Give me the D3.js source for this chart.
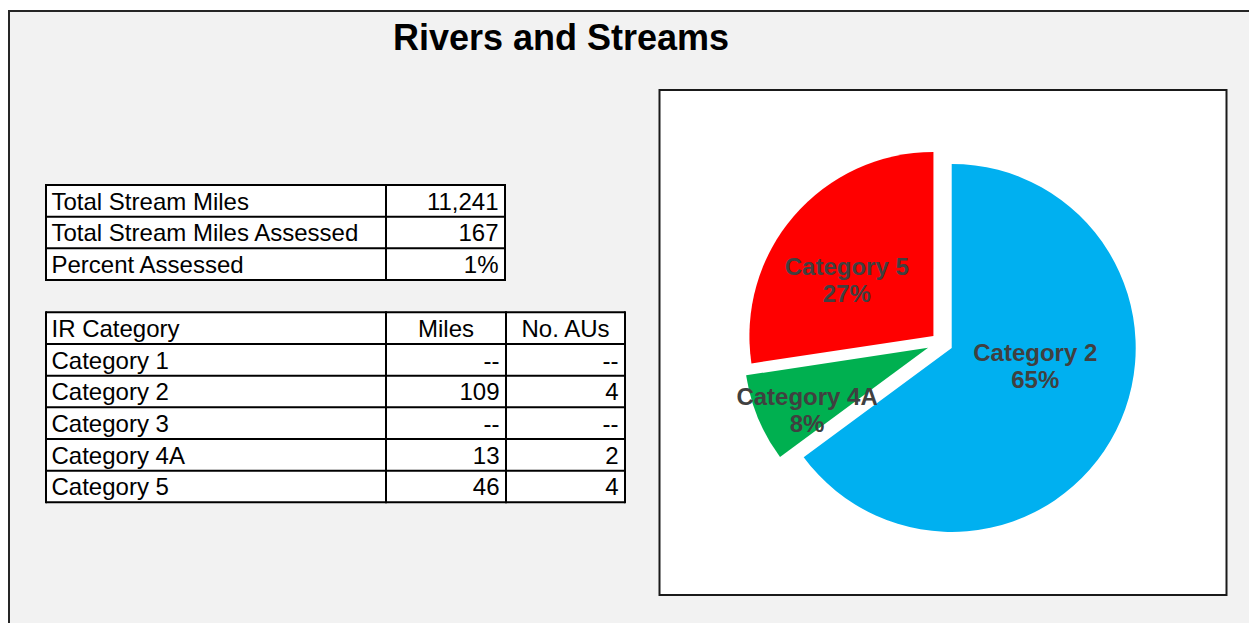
<!DOCTYPE html>
<html>
<head>
<meta charset="utf-8">
<script src="https://cdn.jsdelivr.net/npm/d3@7"></script>
<style>
  body { margin: 0; background: #ffffff; }
  svg { display: block; font-family: "Liberation Sans", Arial, sans-serif; }
</style>
</head>
<body>
<div id="chart"></div>
<script>
// summary table
var summary_labels = ["Total Stream Miles", "Total Stream Miles Assessed", "Percent Assessed"];
var total_miles = 11241;
var assessed_miles = 167;

// category table
var categories = ["Category 1", "Category 2", "Category 3", "Category 4A", "Category 5"];
var miles = [null, 109, null, 13, 46];
var aus = [null, 4, null, 2, 4];
var table_header = ["IR Category", "Miles", "No. AUs"];

var width = 1249,
    height = 623;

var colors = {"Category 2": "#00b0f0", "Category 4A": "#00b050", "Category 5": "#ff0000"};
var explode = {"Category 2": 12, "Category 4A": 14, "Category 5": 10};
// best-fit label nudges, like the excel data labels
var nudge = {"Category 2": [-15, -33], "Category 4A": [-19, 19], "Category 5": [-3, 15]};

var fmt_int = d3.format(","),
    fmt_pct = d3.format(".0%");

var svg = d3.select("#chart")
    .append("svg")
    .attr("width", width)
    .attr("height", height);

svg.append("rect")
    .attr("width", width)
    .attr("height", height)
    .attr("fill", "#ffffff");

// outer frame (right and bottom edges run off the page)
svg.append("rect")
    .attr("x", 9)
    .attr("y", 11)
    .attr("width", width + 20)
    .attr("height", height + 20)
    .attr("fill", "#f2f2f2")
    .attr("stroke", "#262626")
    .attr("stroke-width", 2);

svg.append("text")
    .attr("x", 561)
    .attr("y", 50)
    .attr("text-anchor", "middle")
    .attr("font-size", 36)
    .attr("font-weight", "bold")
    .attr("fill", "#000")
    .text("Rivers and Streams");

function draw_table(g, rows, cols, top, bottom){
    // rows: array of arrays of {text, align}
    var y = d3.scaleBand()
        .domain(d3.range(rows.length))
        .range([top, bottom]);
    var edges = cols;

    g.append("rect")
        .attr("x", edges[0])
        .attr("y", top)
        .attr("width", edges[edges.length - 1] - edges[0])
        .attr("height", bottom - top)
        .attr("fill", "#ffffff");

    var row_g = g.selectAll(".row")
        .data(rows)
        .enter()
        .append("g")
        .attr("class", "row")
        .attr("transform", (d, i) => `translate(0,${y(i)})`);

    row_g.selectAll("text")
        .data(d => d)
        .enter()
        .append("text")
        .attr("x", function(d, j){
            if (d.align == "start") return edges[j] + 5.5;
            if (d.align == "middle") return (edges[j] + edges[j + 1]) / 2;
            return edges[j + 1] - 6.5;
        })
        .attr("y", y.bandwidth() - 7)
        .attr("text-anchor", d => d.align)
        .attr("font-size", 24)
        .attr("fill", "#000")
        .text(d => d.text);

    // grid lines
    g.selectAll(".hline")
        .data(d3.range(rows.length + 1))
        .enter()
        .append("line")
        .attr("x1", edges[0])
        .attr("x2", edges[edges.length - 1])
        .attr("y1", i => i < rows.length ? y(i) : bottom)
        .attr("y2", i => i < rows.length ? y(i) : bottom)
        .attr("stroke", "#000")
        .attr("stroke-width", 2);
    g.selectAll(".vline")
        .data(edges)
        .enter()
        .append("line")
        .attr("x1", d => d)
        .attr("x2", d => d)
        .attr("y1", top - 1)
        .attr("y2", bottom + 1)
        .attr("stroke", "#000")
        .attr("stroke-width", 2);
}

var summary_values = [fmt_int(total_miles), fmt_int(assessed_miles), fmt_pct(assessed_miles / total_miles)];
var summary_rows = summary_labels.map((l, i) => [
    {text: l, align: "start"},
    {text: summary_values[i], align: "end"}
]);
draw_table(svg.append("g"), summary_rows, [46, 386, 505], 185, 280);

var cat_rows = [[
    {text: table_header[0], align: "start"},
    {text: table_header[1], align: "middle"},
    {text: table_header[2], align: "middle"}
]];
categories.forEach(function(c, i){
    cat_rows.push([
        {text: c, align: "start"},
        {text: miles[i] == null ? "--" : fmt_int(miles[i]), align: "end"},
        {text: aus[i] == null ? "--" : aus[i], align: "end"}
    ]);
});
draw_table(svg.append("g"), cat_rows, [46, 386, 506, 625], 312.3, 502.3);

// chart box
svg.append("rect")
    .attr("x", 659.5)
    .attr("y", 90)
    .attr("width", 567)
    .attr("height", 505)
    .attr("fill", "#ffffff")
    .attr("stroke", "#1a1a1a")
    .attr("stroke-width", 2);

var pie_data = categories
    .map((c, i) => ({name: c, miles: miles[i]}))
    .filter(d => d.miles);
var total = d3.sum(pie_data, d => d.miles);

var radius = 184;
var pie = d3.pie().sort(null).value(d => d.miles);
var arc = d3.arc().innerRadius(0).outerRadius(radius);
var label_arc = d3.arc().innerRadius(radius * 0.6).outerRadius(radius * 0.6);

var pie_g = svg.append("g")
    .attr("transform", "translate(941,342.5)");

function shift(d, dist){
    var a = (d.startAngle + d.endAngle) / 2;
    return [dist * Math.sin(a), -dist * Math.cos(a)];
}

var slices = pie_g.selectAll(".slice")
    .data(pie(pie_data))
    .enter()
    .append("g")
    .attr("class", "slice")
    .attr("transform", function(d){
        var s = shift(d, explode[d.data.name]);
        return `translate(${s[0]},${s[1]})`;
    });

slices.append("path")
    .attr("d", arc)
    .attr("fill", d => colors[d.data.name]);

var labels = slices.append("text")
    .attr("transform", function(d){
        var c = label_arc.centroid(d);
        var n = nudge[d.data.name];
        return `translate(${c[0] + n[0]},${c[1] + n[1]})`;
    })
    .attr("text-anchor", "middle")
    .attr("font-size", 24)
    .attr("font-weight", "bold")
    .attr("fill", "#404040");
labels.append("tspan")
    .attr("x", 0)
    .attr("y", -4)
    .text(d => d.data.name);
labels.append("tspan")
    .attr("x", 0)
    .attr("y", 23)
    .text(d => fmt_pct(d.data.miles / total));
</script>
</body>
</html>
